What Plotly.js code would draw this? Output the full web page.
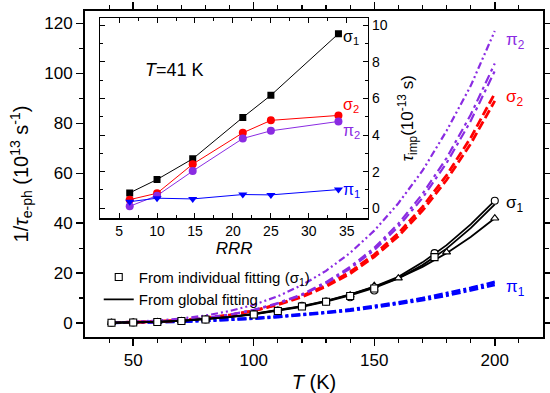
<!DOCTYPE html>
<html>
<head>
<meta charset="utf-8">
<script src="https://cdn.plot.ly/plotly-3.0.1.min.js"></script>
<style>html,body{margin:0;padding:0;background:#fff;}#chart{width:550px;height:393px;}</style>
</head>
<body>
<div id="chart"></div>
<script>
// ---- main panel data: 1/tau_e-ph (10^13 s^-1) vs T (K) ----
const T = [41, 50, 60, 70, 80, 90, 100, 110, 120, 130, 140, 150, 160, 170, 180, 190, 200];
const pi2_a = [0.2, 0.5, 1.0, 1.8, 3.0, 4.8, 7.3, 10.7, 15.2, 20.9, 28.1, 37, 48, 61, 77, 95, 117];
const pi2_b = [0.11, 0.27, 0.6, 1.1, 2.0, 3.4, 5.3, 8.0, 11.5, 16.4, 22.5, 30.1, 39.8, 51.7, 66.1, 83.4, 104];
const pi2_c = [0.1, 0.26, 0.58, 1.1, 1.9, 3.3, 5.1, 7.8, 11.2, 15.9, 21.8, 29.2, 38.6, 50.1, 64.1, 80.9, 101];
const sig2_a = [0.12, 0.27, 0.6, 1.1, 2.0, 3.2, 5.0, 7.5, 10.8, 15.1, 20.5, 27.4, 36, 46.5, 59.2, 74.2, 92];
const sig2_b = [0.12, 0.26, 0.58, 1.06, 1.9, 3.1, 4.8, 7.3, 10.4, 14.6, 19.8, 26.5, 34.8, 45, 57.3, 71.8, 89];
const pi1_a = [0.12, 0.22, 0.39, 0.63, 0.96, 1.38, 1.9, 2.6, 3.4, 4.3, 5.4, 6.7, 8.2, 9.9, 11.8, 14.0, 16.4];
const pi1_b = [0.11, 0.2, 0.36, 0.59, 0.9, 1.29, 1.8, 2.4, 3.2, 4.0, 5.0, 6.3, 7.6, 9.2, 11.0, 13.1, 15.3];
const sig1_a = [0.1, 0.2, 0.45, 0.9, 1.6, 2.5, 3.7, 5.1, 6.8, 8.9, 11.5, 14.6, 18.5, 24.3, 31.2, 39.5, 49];
const sig1_b = [0.1, 0.2, 0.45, 0.85, 1.5, 2.4, 3.5, 4.9, 6.5, 8.6, 11.1, 14.1, 17.9, 23.2, 29.8, 38, 47.5];
const sig1_c = [0.1, 0.2, 0.45, 0.85, 1.5, 2.4, 3.6, 5.0, 6.7, 8.8, 11.4, 14.5, 18.0, 22.5, 28.0, 34.5, 42];
// individual-fitting points (sigma_1)
const T_circ = [41, 50, 60, 70, 80, 100, 110, 120, 130, 140, 150, 175, 200];
const v_circ = [0.1, 0.2, 0.4, 0.8, 1.4, 3.5, 5.0, 6.9, 8.6, 10.3, 13.0, 28.0, 49.0];
const T_sq = [41, 50, 60, 70, 80, 100, 110, 120, 130, 140, 150, 175];
const v_sq = [0.1, 0.2, 0.4, 0.8, 1.4, 3.4, 4.8, 6.6, 8.5, 10.8, 13.8, 26.4];
const T_tri = [41, 50, 60, 70, 80, 100, 110, 120, 130, 140, 150, 160, 180, 200];
const v_tri = [0.1, 0.2, 0.45, 0.8, 1.5, 3.6, 5.0, 6.7, 8.6, 11.2, 15.0, 18.0, 28.4, 42.0];

// ---- inset data: tau_imp (10^-13 s) vs RRR at T = 41 K ----
const RRR = [6.4, 10, 14.7, 21.3, 25, 33.9];
const tau_sig1 = [0.84, 1.57, 2.7, 4.96, 6.17, 9.53];
const tau_sig2 = [0.47, 0.82, 2.41, 4.12, 4.8, 5.07];
const tau_pi2 = [0.11, 0.69, 2.03, 3.81, 4.23, 4.74];
const tau_pi1 = [0.36, 0.55, 0.51, 0.75, 0.73, 1.02];

const PURPLE = '#8a2be2', RED = '#ff0000', BLUE = '#0000ff', BLACK = '#000000';
const FONT = 'Arial, "Liberation Sans", sans-serif';

function curve(y, color, dash, width, name) {
  return {x: T, y: y, type: 'scatter', mode: 'lines', name: name || '', showlegend: false,
          line: {color: color, dash: dash, width: width}, hoverinfo: 'skip'};
}
function pts(x, y, symbol, name, show, rank) {
  return {x: x, y: y, type: 'scatter', mode: 'markers', name: name, showlegend: !!show, legendrank: rank || 1000,
          marker: {symbol: symbol, size: 7, color: '#ffffff', line: {color: BLACK, width: 1.1}}};
}

const data = [
  curve(pi1_a, BLUE, '9px,3px,3px,3px', 3),
  curve(pi1_b, BLUE, '9px,3px,3px,3px', 3),
  curve(sig2_a, RED, '9px,4px', 2.8),
  curve(sig2_b, RED, '9px,4px', 2.8),
  curve(pi2_b, PURPLE, '9px,4px,3px,4px', 2.2),
  curve(pi2_c, PURPLE, '9px,4px,3px,4px', 2.2),
  curve(pi2_a, PURPLE, '7px,3px,2px,3px,2px,3px', 2.2),
  Object.assign(curve(sig1_a, BLACK, 'solid', 1.8, 'From global fitting'), {showlegend: true, legendrank: 2}),
  curve(sig1_b, BLACK, 'solid', 1.8),
  curve(sig1_c, BLACK, 'solid', 1.8),
  pts(T_circ, v_circ, 'circle', 'circles', false),
  pts(T_tri, v_tri, 'triangle-up', 'triangles', false),
  pts(T_sq, v_sq, 'square', 'From individual fitting (σ<sub>1</sub>)', true, 1),
  // inset
  {x: RRR, y: tau_sig1, xaxis: 'x2', yaxis: 'y2', type: 'scatter', mode: 'lines+markers', showlegend: false,
   line: {color: BLACK, width: 1}, marker: {symbol: 'square', size: 7, color: BLACK}},
  {x: RRR, y: tau_sig2, xaxis: 'x2', yaxis: 'y2', type: 'scatter', mode: 'lines+markers', showlegend: false,
   line: {color: RED, width: 1}, marker: {symbol: 'circle', size: 8, color: RED}},
  {x: RRR, y: tau_pi2, xaxis: 'x2', yaxis: 'y2', type: 'scatter', mode: 'lines+markers', showlegend: false,
   line: {color: PURPLE, width: 1}, marker: {symbol: 'circle', size: 8, color: PURPLE}},
  {x: RRR, y: tau_pi1, xaxis: 'x2', yaxis: 'y2', type: 'scatter', mode: 'lines+markers', showlegend: false,
   line: {color: BLUE, width: 1}, marker: {symbol: 'triangle-down', size: 8, color: BLUE}}
];

const layout = {
  width: 550, height: 393,
  margin: {l: 85, r: 7, t: 11, b: 56},
  paper_bgcolor: '#ffffff', plot_bgcolor: '#ffffff',
  font: {family: FONT, color: BLACK},
  xaxis: {
    range: [30, 220], domain: [0, 1], anchor: 'y',
    tickmode: 'array', tickvals: [50, 100, 150, 200],
    ticks: 'outside', ticklen: 7, tickwidth: 1.5, tickcolor: BLACK,
    minor: {tickmode: 'array', tickvals: [40, 60, 70, 80, 90, 110, 120, 130, 140, 160, 170, 180, 190, 210], ticks: 'outside', ticklen: 4, tickwidth: 1.2, tickcolor: BLACK},
    showline: true, linewidth: 2, linecolor: BLACK, mirror: 'ticks',
    showgrid: false, zeroline: false,
    tickfont: {size: 17},
    title: {text: '<i>T</i> (K)', font: {size: 20}, standoff: 8}
  },
  yaxis: {
    range: [-5.6, 125], domain: [0, 1], anchor: 'x',
    tickmode: 'array', tickvals: [0, 20, 40, 60, 80, 100, 120],
    ticks: 'outside', ticklen: 7, tickwidth: 1.5, tickcolor: BLACK,
    minor: {tickmode: 'array', tickvals: [10, 30, 50, 70, 90, 110], ticks: 'outside', ticklen: 4, tickwidth: 1.2, tickcolor: BLACK},
    showline: true, linewidth: 2, linecolor: BLACK, mirror: 'ticks',
    showgrid: false, zeroline: false,
    tickfont: {size: 17},
    title: {text: '1/<i>τ</i><sub>e-ph</sub> (10<sup>13</sup> s<sup>-1</sup>)', font: {size: 20}, standoff: 10}
  },
  xaxis2: {
    range: [2.5, 37.8], domain: [0.033, 0.618], anchor: 'y2',
    tickmode: 'array', tickvals: [5, 10, 15, 20, 25, 30, 35],
    ticks: 'inside', ticklen: 5, tickwidth: 1, tickcolor: BLACK,
    minor: {tickmode: 'array', tickvals: [7.5, 12.5, 17.5, 22.5, 27.5, 32.5], ticks: 'inside', ticklen: 3, tickcolor: BLACK},
    showline: true, linewidth: 1.2, linecolor: BLACK, mirror: 'ticks',
    showgrid: false, zeroline: false,
    tickfont: {size: 14},
    title: {text: '<i>RRR</i>', font: {size: 17}, standoff: 2}
  },
  yaxis2: {
    range: [-0.55, 10.38], domain: [0.364, 0.978], anchor: 'x2', side: 'right',
    tickmode: 'array', tickvals: [0, 2, 4, 6, 8, 10],
    ticks: 'inside', ticklen: 5, tickwidth: 1, tickcolor: BLACK,
    minor: {tickmode: 'array', tickvals: [1, 3, 5, 7, 9], ticks: 'inside', ticklen: 3, tickcolor: BLACK},
    showline: true, linewidth: 1.2, linecolor: BLACK, mirror: 'ticks',
    showgrid: false, zeroline: false,
    tickfont: {size: 14},
    title: {text: '<i>τ</i><sub>imp</sub>(10<sup>-13</sup> s)', font: {size: 17}, standoff: 14}
  },
  legend: {
    x: 0.03, y: 0.234, xanchor: 'left', yanchor: 'top',
    bgcolor: 'rgba(0,0,0,0)', borderwidth: 0,
    font: {size: 15, family: FONT}, tracegroupgap: 0, itemwidth: 30
  },
  annotations: [
    {xref: 'x', yref: 'y', x: 204, y: 113, text: 'π<sub>2</sub>', showarrow: false, xanchor: 'left', font: {size: 17, color: PURPLE}},
    {xref: 'x', yref: 'y', x: 204, y: 90, text: 'σ<sub>2</sub>', showarrow: false, xanchor: 'left', font: {size: 17, color: RED}},
    {xref: 'x', yref: 'y', x: 204, y: 47.5, text: 'σ<sub>1</sub>', showarrow: false, xanchor: 'left', font: {size: 17, color: BLACK}},
    {xref: 'x', yref: 'y', x: 204, y: 14, text: 'π<sub>1</sub>', showarrow: false, xanchor: 'left', font: {size: 17, color: BLUE}},
    {xref: 'x2', yref: 'y2', x: 34.3, y: 9.3, text: 'σ<sub>1</sub>', showarrow: false, xanchor: 'left', font: {size: 16, color: BLACK}},
    {xref: 'x2', yref: 'y2', x: 34.3, y: 5.6, text: 'σ<sub>2</sub>', showarrow: false, xanchor: 'left', font: {size: 16, color: RED}},
    {xref: 'x2', yref: 'y2', x: 34.3, y: 4.2, text: 'π<sub>2</sub>', showarrow: false, xanchor: 'left', font: {size: 16, color: PURPLE}},
    {xref: 'x2', yref: 'y2', x: 34.3, y: 0.95, text: 'π<sub>1</sub>', showarrow: false, xanchor: 'left', font: {size: 16, color: BLUE}},
    {xref: 'x2', yref: 'y2', x: 8.2, y: 7.55, text: '<i>T</i>=41 K', showarrow: false, xanchor: 'left', font: {size: 18, color: BLACK}}
  ]
};

Plotly.newPlot('chart', data, layout, {displayModeBar: false, staticPlot: true});
</script>
</body>
</html>
